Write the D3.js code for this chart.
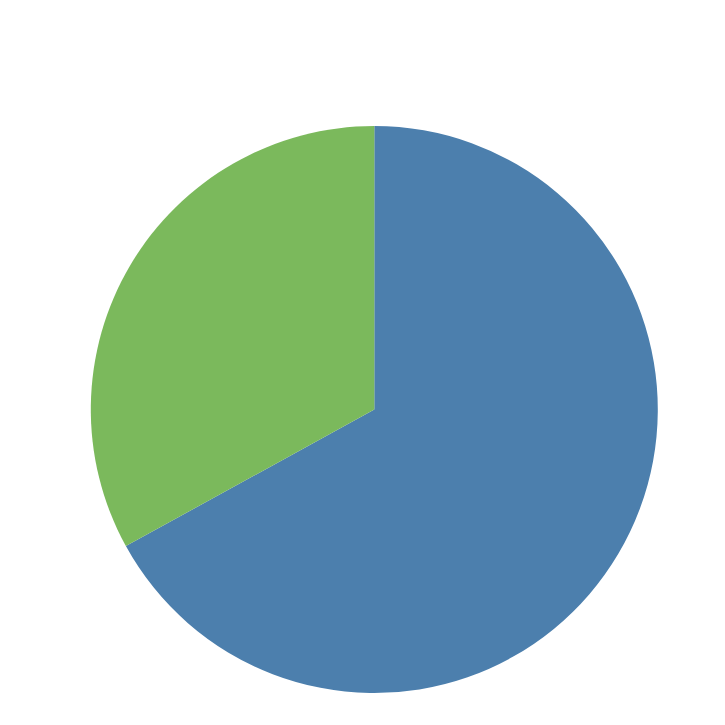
<!DOCTYPE html>
<html>
<head>
<meta charset="utf-8">
<script src="https://cdn.jsdelivr.net/npm/d3@7"></script>
<style>
  html, body { margin: 0; padding: 0; background: #fff; }
</style>
</head>
<body>
<div id="chart"></div>
<script>
// slice data (clockwise from 12 o'clock)
var categories = ["A", "B"];
var values = [67, 33];
var colors = ["#4c7fad", "#7bb95c"];

var w = 725, h = 725;
var cx = 374.3, cy = 409.5, r = 283.5;

var svg = d3.select("#chart").append("svg")
    .attr("width", w)
    .attr("height", h);

var color = d3.scaleOrdinal().domain(categories).range(colors);

var pie = d3.pie()
    .sort(null)
    .value(function (d, i) { return values[i]; });

var arc = d3.arc().innerRadius(0).outerRadius(r);

var g = svg.append("g").attr("transform", "translate(" + cx + "," + cy + ")");

g.selectAll("path")
    .data(pie(categories))
    .enter().append("path")
    .attr("d", arc)
    .attr("fill", function (d) { return color(d.data); });
</script>
</body>
</html>
